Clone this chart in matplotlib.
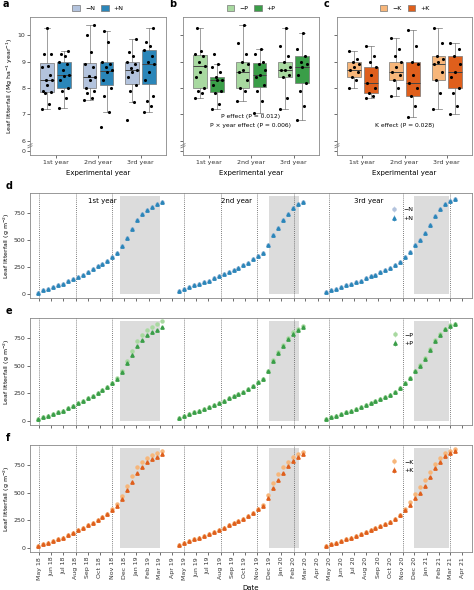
import matplotlib
matplotlib.use("Agg")
import matplotlib.pyplot as plt
import matplotlib.dates as mdates
import numpy as np
import pandas as pd
from matplotlib.patches import Patch

plt.rcParams['font.family'] = ['DejaVu Sans']
plt.rcParams['font.size'] = 4.5

years = ["1st year", "2nd year", "3rd year"]
# box stats: (whislo, q1, med, q3, whishi) per year for minus / plus
N_minus = [(7.2, 7.85, 8.3, 8.95, 10.3), (7.55, 8.0, 8.4, 8.95, 10.4), (7.45, 8.15, 8.7, 9.0, 9.85)]
N_plus = [(7.25, 8.0, 8.5, 9.0, 9.4), (7.1, 8.1, 8.65, 9.0, 10.15), (7.1, 8.15, 8.9, 9.45, 10.3)]
P_minus = [(7.6, 8.0, 8.85, 9.25, 10.3), (7.5, 8.0, 8.6, 9.0, 10.4), (7.2, 8.4, 8.7, 9.0, 10.3)]
P_plus = [(7.2, 7.85, 8.3, 8.4, 8.9), (7.05, 8.05, 8.5, 8.95, 9.5), (6.8, 8.2, 8.8, 9.2, 10.1)]
K_minus = [(8.0, 8.4, 8.7, 9.0, 9.4), (7.7, 8.3, 8.6, 9.0, 9.9), (7.2, 8.3, 8.9, 9.2, 10.3)]
K_plus = [(7.6, 7.8, 8.2, 8.8, 9.6), (6.9, 7.7, 8.2, 9.0, 10.2), (7.0, 8.0, 8.6, 9.2, 9.7)]
# individual plot points
pts = {
 "N-": [[7.2, 7.4, 7.8, 7.85, 7.9, 8.1, 8.3, 8.3, 8.5, 8.8, 8.85, 9.3, 9.3, 10.3],
        [7.55, 7.6, 7.8, 7.9, 8.0, 8.3, 8.4, 8.45, 8.8, 8.9, 9.35, 10.0, 10.4],
        [6.8, 7.45, 7.9, 8.1, 8.4, 8.6, 8.7, 8.75, 8.9, 9.0, 9.2, 9.35, 9.85]],
 "N+": [[7.25, 7.6, 7.9, 8.0, 8.3, 8.45, 8.5, 8.7, 8.9, 9.0, 9.2, 9.3, 9.4],
        [6.5, 7.1, 7.7, 8.0, 8.3, 8.6, 8.7, 8.8, 8.9, 9.0, 9.75, 10.15],
        [7.1, 7.3, 7.5, 7.7, 8.3, 8.6, 8.9, 9.0, 9.2, 9.45, 9.6, 9.75, 10.3]],
 "P-": [[7.6, 7.8, 7.9, 8.0, 8.4, 8.6, 8.85, 9.0, 9.2, 9.3, 9.4, 10.3],
        [7.5, 7.9, 8.0, 8.3, 8.6, 8.7, 8.9, 9.0, 9.3, 9.7, 10.4],
        [7.2, 7.6, 8.4, 8.5, 8.7, 8.7, 8.8, 9.0, 9.2, 9.6, 10.3]],
 "P+": [[7.2, 7.4, 7.8, 7.9, 8.1, 8.3, 8.3, 8.4, 8.6, 8.8, 8.9, 9.3],
        [7.05, 7.5, 7.9, 8.1, 8.4, 8.5, 8.7, 8.9, 9.0, 9.3, 9.5],
        [6.8, 7.3, 7.9, 8.2, 8.5, 8.8, 8.9, 9.0, 9.2, 9.5, 10.1]],
 "K-": [[8.0, 8.3, 8.4, 8.6, 8.7, 8.8, 8.9, 9.0, 9.1, 9.4],
        [7.7, 8.0, 8.3, 8.5, 8.6, 8.8, 9.0, 9.2, 9.5, 9.9],
        [7.2, 7.8, 8.3, 8.6, 8.9, 9.0, 9.1, 9.2, 9.7, 10.3]],
 "K+": [[7.6, 7.7, 7.8, 8.0, 8.2, 8.5, 8.8, 9.0, 9.2, 9.6],
        [6.9, 7.3, 7.7, 8.0, 8.2, 8.5, 8.9, 9.0, 9.6, 10.2],
        [7.0, 7.3, 7.8, 8.0, 8.4, 8.6, 8.9, 9.2, 9.5, 9.7]],
}

# time series (cumulative leaf litterfall, g m-2)
start_dates = ["2018-04-28", "2019-04-18", "2020-04-22"]
y1 = [15, 35, 50, 65, 80, 95, 120, 140, 160, 180, 205, 230, 255, 280, 305, 340, 380, 440, 520, 600, 680, 735, 775, 800, 825, 850]
y2 = [25, 50, 65, 80, 95, 110, 125, 145, 165, 185, 205, 225, 245, 265, 290, 320, 350, 380, 450, 540, 610, 680, 740, 790, 825, 850]
y3 = [20, 35, 50, 65, 80, 95, 110, 125, 145, 165, 180, 200, 220, 240, 265, 295, 340, 390, 450, 500, 560, 640, 720, 780, 830, 860, 875]
# minus-treatment differences
dN = [[0]*26, [0]*26, [0]*27]
dP = [[0]*16 + [5, 15, 25, 35, 40, 45, 45, 45, 50, 50],
      [0]*18 + [5, 10, 10, 10, 10, 10, 5, 5],
      [0]*18 + [5, 5, 10, 10, 10, 10, 5, 5, 5]]
dK = [[0]*15 + [10, 20, 30, 40, 50, 50, 45, 40, 40, 35, 30],
      [0]*17 + [10, 25, 50, 60, 50, 40, 30, 25, 20],
      [0]*16 + [10, 25, 40, 50, 55, 50, 40, 30, 25, 20, 15]]
shade = [("2018-11-20", "2019-03-01"), ("2019-12-01", "2020-02-15"), ("2020-12-01", "2021-02-25")]
vlines = ["2018-05-01", "2018-08-01", "2018-11-01", "2019-05-01", "2019-08-01", "2019-11-01",
          "2020-02-01", "2020-05-01", "2020-11-01", "2021-03-01"]

cols = {"N": ("#b3c3dd", "#2b86b9"), "P": ("#a8d9a0", "#3a9e48"), "K": ("#f7b67a", "#df5f1c")}

fig = plt.figure(figsize=(4.74, 5.9), dpi=100)
W, H = 474, 590
def axpx(l, t, r, b):
    return fig.add_axes([l / W, 1 - b / H, (r - l) / W, (b - t) / H])

tops = [(30, 166), (183, 319), (337, 472)]
boxdata = [("N", N_minus, N_plus), ("P", P_minus, P_plus), ("K", K_minus, K_plus)]
jit = [-0.12, 0.05, -0.05, 0.1, -0.09, 0.0, 0.12, -0.02, 0.08, -0.11, 0.03, -0.06, 0.1, 0.0]
for i, ((l, r), (nut, mn, pl)) in enumerate(zip(tops, boxdata)):
    ax = axpx(l, 17, r, 155)
    light, dark = cols[nut]
    for k, (stats, c, key, off) in enumerate([(mn, light, nut + "-", -0.2), (pl, dark, nut + "+", 0.2)]):
        bstats = [dict(whislo=s[0], q1=s[1], med=s[2], q3=s[3], whishi=s[4], fliers=[]) for s in stats]
        pos = np.arange(3) + off
        ax.bxp(bstats, positions=pos, widths=0.32, patch_artist=True, showfliers=False,
               boxprops=dict(facecolor=c, edgecolor="#777777", linewidth=0.5),
               medianprops=dict(color="#444444", linewidth=0.7),
               whiskerprops=dict(color="#777777", linewidth=0.5),
               capprops=dict(color="#777777", linewidth=0.5))
        for j in range(3):
            v = pts[key][j]
            ax.scatter(pos[j] + np.array(jit[:len(v)]), v, s=5, color="black", zorder=5, linewidths=0)
    ax.set_xlim(-0.6, 2.6)
    ax.set_ylim(5.45, 10.7)
    ax.set_xticks(range(3))
    ax.set_xticklabels(years)
    ax.set_yticks([5.6, 6, 7, 8, 9, 10])
    if i == 0:
        ax.set_yticklabels(["0", "6", "7", "8", "9", "10"])
        ax.set_ylabel("Leaf litterfall (Mg ha$^{-1}$ year$^{-1}$)", labelpad=2)
    else:
        ax.set_yticklabels([])
    ax.set_xlabel("Experimental year", fontsize=5)
    for sp in ax.spines.values():
        sp.set_color("#888888"); sp.set_linewidth(0.6)
    ax.tick_params(length=2, width=0.5, colors="#333333", pad=1.5)
    ax.plot([-0.65, -0.55], [5.72, 5.80], color="#666666", lw=0.5, clip_on=False)
    ax.plot([-0.65, -0.55], [5.80, 5.88], color="#666666", lw=0.5, clip_on=False)
    ax.legend(handles=[Patch(facecolor=light, edgecolor="#777777", lw=0.5, label="\u2212" + nut),
                       Patch(facecolor=dark, edgecolor="#777777", lw=0.5, label="+" + nut)],
              loc="lower center", bbox_to_anchor=(0.5, 1.0), ncol=2, frameon=False,
              handlelength=1.2, handleheight=1.0, columnspacing=1.0, fontsize=4.5)
    ax.text(-0.2 if i == 0 else -0.1, 1.07, "abc"[i], transform=ax.transAxes, fontsize=7, fontweight="bold")
    if nut == "P":
        ax.text(1, 6.85, "P effect (P = 0.012)", ha="center", fontsize=4.3)
        ax.text(1, 6.5, "P \u00d7 year effect (P = 0.006)", ha="center", fontsize=4.3)
    if nut == "K":
        ax.text(1, 6.5, "K effect (P = 0.028)", ha="center", fontsize=4.3)

series = [y1, y2, y3]
rows = [(193, 298, "N", dN), (318, 425, "P", dP), (445, 552, "K", dK)]
for ri, (t, b, nut, dd) in enumerate(rows):
    ax = axpx(30, t, 472, b)
    light, dark = cols[nut]
    for s0, e0 in shade:
        ax.fill_between([pd.Timestamp(s0), pd.Timestamp(e0)], 0, 900, color="#dcdcdc", lw=0, zorder=0)
    for v in vlines:
        ax.axvline(pd.Timestamp(v), color="#555555", ls=(0, (1, 1.5)), lw=0.6, zorder=1)
    for yi, (sd, ys) in enumerate(zip(start_dates, series)):
        dates = pd.date_range(sd, periods=len(ys), freq="12D12h")
        ym = np.array(ys) + np.array(dd[yi])
        ax.errorbar(dates, ym, yerr=10, fmt="o", ms=2.2, color=light, elinewidth=0.4, capsize=0, zorder=3,
                    label="\u2212" + nut if yi == 0 else None)
        ax.errorbar(dates, ys, yerr=10, fmt="^", ms=2.4, color=dark, elinewidth=0.4, capsize=0, zorder=4,
                    label="+" + nut if yi == 0 else None)
    ax.set_xlim(pd.Timestamp("2018-04-08"), pd.Timestamp("2021-04-25"))
    ax.set_ylim(-35, 930)
    ax.set_yticks([0, 250, 500, 750])
    ax.set_ylabel("Leaf litterfall (g m$^{-2}$)", labelpad=1)
    ax.xaxis.set_major_locator(mdates.MonthLocator())
    ax.xaxis.set_major_formatter(mdates.DateFormatter("%b %y"))
    if ri == 2:
        plt.setp(ax.get_xticklabels(), rotation=90)
        ax.set_xlabel("Date", fontsize=5)
    else:
        ax.set_xticklabels([])
    ax.tick_params(length=2, width=0.5, colors="#333333", pad=1.5)
    for sp in ax.spines.values():
        sp.set_color("#888888"); sp.set_linewidth(0.6)
    ax.legend(loc="upper right", bbox_to_anchor=(0.88, 0.92), frameon=False, fontsize=4.5, handlelength=1.5)
    ax.text(-0.055, 1.04, "def"[ri], transform=ax.transAxes, fontsize=7, fontweight="bold")
    if ri == 0:
        for txt, d in zip(years, ["2018-09-01", "2019-08-01", "2020-07-01"]):
            ax.text(pd.Timestamp(d), 880, txt, fontsize=5, va="top")

fig.savefig("out.png", dpi=100)
